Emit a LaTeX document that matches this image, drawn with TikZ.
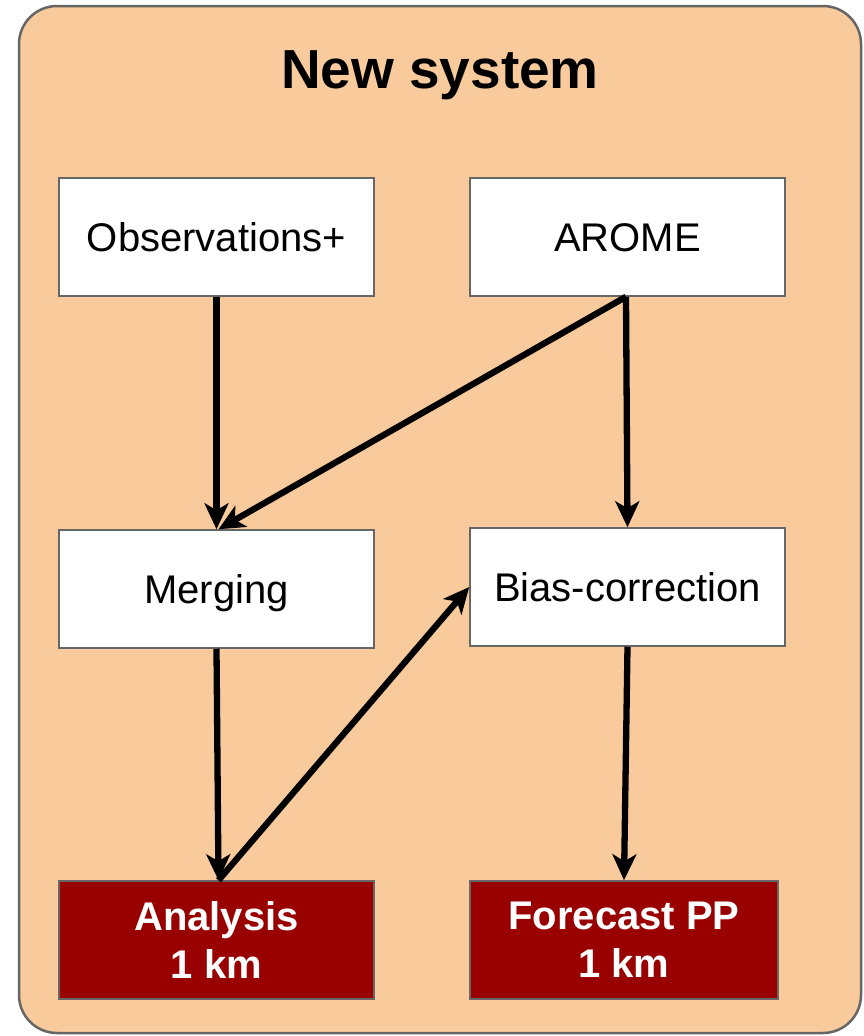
\documentclass[tikz,border=0pt]{standalone}
\usepackage{fontspec}
\setmainfont{Liberation Sans}
\usetikzlibrary{arrows.meta}
\definecolor{bgorange}{HTML}{F9CB9C}
\definecolor{darkred}{HTML}{990000}
\definecolor{bordergray}{HTML}{666666}
\begin{document}
\begin{tikzpicture}[x=1pt,y=-1pt,
  wbox/.style={draw=bordergray,line width=1.5pt,fill=white,minimum width=315pt,minimum height=118pt,inner sep=0pt,font=\fontsize{40}{46}\selectfont,align=center,text depth=5pt,text height=33pt},
  rbox/.style={draw=bordergray,line width=1.5pt,fill=darkred,minimum height=118pt,inner sep=0pt,text=white,font=\fontsize{40}{48}\selectfont\bfseries,align=center},
  conn/.style={line width=6.3pt,-{Stealth[length=26pt,width=24pt,inset=7pt]}}]
\useasboundingbox (0,0) rectangle (863,1036);
\draw[draw=bordergray,line width=2.5pt,fill=bgorange,rounded corners=38pt] (19,6) rectangle (861,1033);
\node (title) at (440,75) {\fontsize{55}{60}\selectfont\bfseries New system};
\node[wbox] (obs) at (216.5,237) {Observations+};
\node[wbox] (arome) at (627.5,237) {AROME};
\node[wbox] (merg) at (216.5,589) {Merging};
\node[wbox] (bias) at (627.5,587) {Bias-correction};
\node[rbox,minimum width=315pt] (ana) at (216.5,940) {Analysis\\1 km};
\node[rbox,minimum width=308pt] (fc) at (624,940) {Forecast PP\\1 km};
\coordinate (aromeb) at ([xshift=-1.5pt]arome.south);
\draw[conn] (obs.south) -- (merg.north);
\draw[conn] (aromeb) -- ([xshift=2pt]merg.north);
\draw[conn] (aromeb) -- (bias.north);
\draw[conn] (merg.south) -- ([xshift=2pt]ana.north);
\draw[conn] ([xshift=2pt]ana.north) -- (bias.west);
\draw[conn] (bias.south) -- ([xshift=0pt]fc.north);
\end{tikzpicture}
\end{document}
